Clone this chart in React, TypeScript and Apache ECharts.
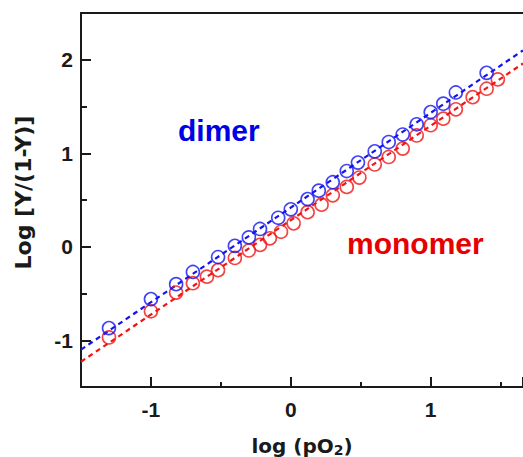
import React, { useEffect, useRef } from "react";
import * as echarts from "echarts";

// dimer (blue) data
const dimerX = [-1.30, -1.00, -0.82, -0.70, -0.52, -0.40, -0.30, -0.22, -0.09, 0.00, 0.12, 0.20, 0.30, 0.40, 0.48, 0.60, 0.70, 0.80, 0.90, 1.00, 1.09, 1.18, 1.40];
const dimerY = [-0.87, -0.56, -0.40, -0.27, -0.11, 0.01, 0.10, 0.19, 0.31, 0.40, 0.51, 0.60, 0.69, 0.81, 0.90, 1.02, 1.12, 1.20, 1.31, 1.44, 1.53, 1.65, 1.86];
// monomer (red) data
const monomerX = [-1.30, -1.00, -0.82, -0.70, -0.60, -0.52, -0.40, -0.30, -0.22, -0.15, -0.07, 0.02, 0.12, 0.22, 0.30, 0.40, 0.49, 0.60, 0.70, 0.80, 0.90, 1.00, 1.09, 1.18, 1.30, 1.40, 1.48];
const monomerY = [-0.97, -0.69, -0.49, -0.39, -0.32, -0.25, -0.12, -0.04, 0.02, 0.09, 0.16, 0.25, 0.37, 0.45, 0.55, 0.64, 0.74, 0.88, 0.96, 1.05, 1.19, 1.30, 1.37, 1.47, 1.60, 1.69, 1.79];
// fitted lines (end points)
const dimerFitX = [-1.5, 1.66];
const dimerFitY = [-1.10, 2.10];
const monomerFitX = [-1.5, 1.66];
const monomerFitY = [-1.23, 1.96];

const X_MIN = -1.5;
const X_MAX = 1.66;
const Y_MIN = -1.5;
const Y_MAX = 2.5;

const BLUE = "#1414f0";
const RED = "#f01414";
const AXIS = "#1a1a1a";
const FONT = "'Liberation Sans', Arial, sans-serif";
const TITLE_FONT = "'DejaVu Sans', sans-serif";

const zip = (xs: number[], ys: number[]) => xs.map((x, i) => [x, ys[i]]);

export default function App() {
  const ref = useRef<HTMLDivElement>(null);
  useEffect(() => {
    if (!ref.current) return;
    const chart = echarts.init(ref.current, null, { renderer: "svg" });
    const intLabel = (v: number) => (Math.abs(v - Math.round(v)) < 1e-9 ? String(Math.round(v)) : "");
    chart.setOption({
      animation: false,
      backgroundColor: "#ffffff",
      grid: { left: 81, right: 0, top: 13, bottom: 70, containLabel: false, outerBoundsMode: "none" },
      xAxis: [
        {
          type: "value",
          min: X_MIN,
          max: X_MAX,
          splitNumber: 3,
          position: "bottom",
          name: "log (pO{sub|2})",
          nameLocation: "middle",
          nameGap: 48,
          nameTextStyle: {
            fontFamily: TITLE_FONT,
            fontSize: 20,
            fontWeight: "bold",
            color: AXIS,
            rich: {
              sub: { fontFamily: TITLE_FONT, fontSize: 14, fontWeight: "bold", color: AXIS, padding: [8, 0, 0, 0] },
            },
          },
          axisLine: { show: true, onZero: false, lineStyle: { color: AXIS, width: 2 } },
          axisTick: { show: true, inside: true, length: 10, lineStyle: { color: AXIS, width: 2 } },
          minorTick: { show: true, splitNumber: 2, length: 5, lineStyle: { color: AXIS, width: 2 } },
          axisLabel: {
            show: true,
            margin: 12,
            showMinLabel: false,
            showMaxLabel: false,
            formatter: intLabel,
            fontFamily: FONT,
            fontSize: 21,
            fontWeight: "bold",
            color: AXIS,
          },
          splitLine: { show: false },
        },
        {
          type: "value",
          min: X_MIN,
          max: X_MAX,
          position: "top",
          axisLine: { show: true, onZero: false, lineStyle: { color: AXIS, width: 2 } },
          axisTick: { show: false },
          axisLabel: { show: false },
          splitLine: { show: false },
        },
      ],
      yAxis: {
        type: "value",
        min: Y_MIN,
        max: Y_MAX,
        splitNumber: 4,
        name: "Log [Y/(1-Y)]",
        nameLocation: "middle",
        nameGap: 47,
        nameTextStyle: {
          fontFamily: TITLE_FONT,
          fontSize: 22,
          fontWeight: "bold",
          color: AXIS,
          padding: [0, 0, 0, 15],
        },
        axisLine: { show: true, onZero: false, lineStyle: { color: AXIS, width: 2 } },
        axisTick: { show: true, inside: true, length: 10, lineStyle: { color: AXIS, width: 2 } },
        minorTick: { show: true, splitNumber: 2, length: 6, lineStyle: { color: AXIS, width: 2 } },
        axisLabel: {
          show: true,
          margin: 8,
          showMinLabel: false,
          showMaxLabel: false,
          formatter: intLabel,
          fontFamily: FONT,
          fontSize: 21,
          fontWeight: "bold",
          color: AXIS,
        },
        splitLine: { show: false },
      },
      series: [
        {
          type: "line",
          data: zip(dimerFitX, dimerFitY),
          showSymbol: false,
          symbol: "none",
          lineStyle: { color: BLUE, width: 2.2, type: [5, 4] },
          z: 1,
        },
        {
          type: "line",
          data: zip(monomerFitX, monomerFitY),
          showSymbol: false,
          symbol: "none",
          lineStyle: { color: RED, width: 2.2, type: [5, 4] },
          z: 1,
        },
        {
          type: "scatter",
          data: zip(monomerX, monomerY),
          symbol: "circle",
          symbolSize: 13,
          itemStyle: { color: "transparent", borderColor: RED, borderWidth: 1.6 },
          z: 2,
        },
        {
          type: "scatter",
          data: zip(dimerX, dimerY),
          symbol: "circle",
          symbolSize: 13,
          itemStyle: { color: "transparent", borderColor: BLUE, borderWidth: 1.6 },
          z: 3,
        },
      ],
      graphic: [
        {
          type: "text",
          x: 178,
          y: 130,
          style: {
            text: "dimer",
            font: `bold 30px ${FONT}`,
            fill: "#0000e6",
            verticalAlign: "middle",
            align: "left",
          },
        },
        {
          type: "text",
          x: 347,
          y: 243,
          style: {
            text: "monomer",
            font: `bold 30px ${FONT}`,
            fill: "#e60000",
            verticalAlign: "middle",
            align: "left",
          },
        },
      ],
    });
    return () => chart.dispose();
  }, []);
  return (
    <div
      ref={ref}
      style={{ position: "absolute", left: 0, top: 0, width: 523, height: 457, background: "#fff" }}
    />
  );
}
